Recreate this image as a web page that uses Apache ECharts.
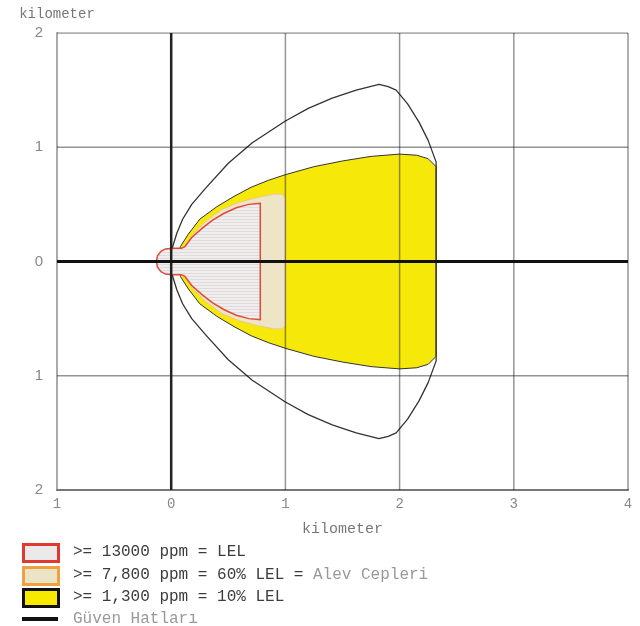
<!DOCTYPE html>
<html><head><meta charset="utf-8">
<script src="https://cdn.jsdelivr.net/npm/echarts@6/dist/echarts.min.js"></script>
<style>html,body{margin:0;padding:0;background:#fff}#c{width:640px;height:626px}</style>
</head><body><div id="c"></div>
<script>
// Axis ticks
const xTicks = [-1, 0, 1, 2, 3, 4];
const yTicks = [-2, -1, 0, 1, 2];

// >= 13000 ppm = LEL (red zone) outline, km
const lelZone = [
  [0.78,0.51],[0.68,0.50],[0.57,0.47],[0.46,0.42],[0.36,0.36],[0.27,0.29],[0.18,0.21],[0.12,0.13],[0.09,0.115],
  [0.01,0.115],[-0.05,0.11],[-0.09,0.09],[-0.12,0.05],[-0.13,0],[-0.12,-0.05],[-0.09,-0.09],[-0.05,-0.11],[0.01,-0.115],
  [0.09,-0.115],[0.12,-0.13],[0.18,-0.21],[0.27,-0.29],[0.36,-0.36],[0.46,-0.42],[0.57,-0.47],[0.68,-0.50],[0.78,-0.51]
];
// >= 7,800 ppm = 60% LEL (orange zone)
const flamePocketZone = [
  [1.0,0.56],[0.97,0.59],[0.9,0.59],[0.75,0.56],[0.6,0.52],[0.45,0.46],[0.3,0.35],[0.2,0.25],[0.12,0.14],[0.09,0.11],
  [0.09,-0.11],[0.12,-0.14],[0.2,-0.25],[0.3,-0.35],[0.45,-0.46],[0.6,-0.52],[0.75,-0.56],[0.9,-0.59],[0.97,-0.59],[1.0,-0.56]
];
// >= 1,300 ppm = 10% LEL (yellow zone)
const tenPctZone = [
  [2.32,0.83],[2.25,0.90],[2.15,0.93],[2.0,0.94],[1.75,0.92],[1.5,0.88],[1.25,0.83],[1.0,0.76],[0.85,0.71],[0.7,0.65],
  [0.55,0.57],[0.4,0.48],[0.25,0.37],[0.15,0.24],[0.08,0.13],[0.05,0],
  [0.08,-0.13],[0.15,-0.24],[0.25,-0.37],[0.4,-0.48],[0.55,-0.57],[0.7,-0.65],[0.85,-0.71],[1.0,-0.76],[1.25,-0.83],
  [1.5,-0.88],[1.75,-0.92],[2.0,-0.94],[2.15,-0.93],[2.25,-0.90],[2.32,-0.83]
];
// Güven Hatları (confidence lines)
const confidenceLine = [
  [0.01,0.12],[0.05,0.25],[0.1,0.37],[0.18,0.5],[0.3,0.64],[0.5,0.86],[0.71,1.04],[1.0,1.23],[1.2,1.34],[1.41,1.43],
  [1.62,1.5],[1.82,1.55],[1.9,1.53],[1.97,1.5],[2.07,1.38],[2.17,1.22],[2.25,1.06],[2.32,0.87],
  [2.32,-0.87],[2.25,-1.06],[2.17,-1.22],[2.07,-1.38],[1.97,-1.5],[1.9,-1.53],[1.82,-1.55],[1.62,-1.5],[1.41,-1.43],
  [1.2,-1.34],[1.0,-1.23],[0.71,-1.04],[0.5,-0.86],[0.3,-0.64],[0.18,-0.5],[0.1,-0.37],[0.05,-0.25],[0.01,-0.12]
];
// Reference axes through the source
const vAxisLine = [[0,-2],[0,2]];
const hAxisLine = [[-1,0],[4,0]];

const legendLabels = ['>= 13000 ppm = LEL', '>= 7,800 ppm = 60% LEL = ', '>= 1,300 ppm = 10% LEL'];
const legendExtra = 'Alev Cepleri';
const legendLine = 'Güven Hatları';

// hatch pattern for red zone
const pat = document.createElement('canvas');
pat.width = 4; pat.height = 3;
const pc = pat.getContext('2d');
pc.fillStyle = '#efeded'; pc.fillRect(0,0,4,3);
pc.fillStyle = '#e0dcdc'; pc.fillRect(0,0,4,1);

function polygonSeries(name, pts, fill, stroke, lw, z) {
  return {
    type: 'custom', name: name, coordinateSystem: 'cartesian2d', z: z, silent: true,
    data: pts,
    renderItem: function (params, api) {
      if (params.dataIndex !== 0) return null;
      const p = pts.map(function (d) { return api.coord(d); });
      return { type: 'polygon', shape: { points: p }, style: { fill: fill, stroke: stroke, lineWidth: lw } };
    }
  };
}

// grid lines drawn above the filled zones (they show through the fills in the reference)
const gridStyle = { color: 'rgba(0,0,0,0.42)', width: 1.5 };
const gridSeries = [];
xTicks.slice(1).forEach(function (x) {
  if (x === 0) return;
  gridSeries.push({ type: 'line', data: [[x, yTicks[0]], [x, yTicks[yTicks.length - 1]]], showSymbol: false, z: 3, silent: true, lineStyle: gridStyle });
});
yTicks.slice(1).forEach(function (y) {
  if (y === 0) return;
  gridSeries.push({ type: 'line', data: [[xTicks[0], y], [xTicks[xTicks.length - 1], y]], showSymbol: false, z: 3, silent: true, lineStyle: gridStyle });
});

const mono = '"Liberation Mono", "DejaVu Sans Mono", monospace';
const chart = echarts.init(document.getElementById('c'));
const option = {
  animation: false,
  backgroundColor: '#fff',
  grid: { left: 57, right: 12, top: 33, bottom: 136, containLabel: false },
  xAxis: {
    type: 'value', min: -1, max: 4, interval: 1,
    name: 'kilometer', nameLocation: 'middle', nameGap: 32,
    nameTextStyle: { fontFamily: mono, fontSize: 15, color: '#777' },
    axisLine: { onZero: false, lineStyle: { color: '#777', width: 2 } },
    axisTick: { show: false },
    axisLabel: { margin: 7, fontFamily: mono, fontSize: 14, color: '#888', formatter: function (v) { return String(Math.abs(v)); } },
    splitLine: { show: false }
  },
  yAxis: {
    type: 'value', min: -2, max: 2, interval: 1,
    name: 'kilometer', nameLocation: 'end', nameGap: 12,
    nameTextStyle: { fontFamily: mono, fontSize: 14, color: '#777' },
    axisLine: { onZero: false, lineStyle: { color: '#aaa', width: 2 } },
    axisTick: { show: false },
    axisLabel: { margin: 14, fontFamily: 'Liberation Sans, Arial, sans-serif', fontSize: 15, color: '#888', formatter: function (v) { return String(Math.abs(v)); } },
    splitLine: { show: false }
  },
  series: [
    polygonSeries('>= 1,300 ppm = 10% LEL', tenPctZone, '#f6e90a', '#333', 1, 1),
    polygonSeries('>= 7,800 ppm = 60% LEL', flamePocketZone, '#eee4c6', '#f2c58a', 1, 1),
    polygonSeries('>= 13000 ppm = LEL', lelZone, { image: pat, repeat: 'repeat' }, '#e04a3a', 1.5, 1),
    { type: 'line', name: 'Güven Hatları', data: confidenceLine, showSymbol: false, z: 2, silent: true,
      lineStyle: { color: '#333', width: 1.3 } }
  ].concat(gridSeries).concat([
    { type: 'line', data: vAxisLine, showSymbol: false, z: 5, silent: true, lineStyle: { color: '#222', width: 2.5 } },
    { type: 'line', data: hAxisLine, showSymbol: false, z: 5, silent: true, lineStyle: { color: '#111', width: 3 } }
  ]),
  graphic: [
    { type: 'rect', left: 22, top: 543, shape: { width: 35, height: 17 }, style: { fill: '#ebe9e9', stroke: '#e03a30', lineWidth: 3 } },
    { type: 'rect', left: 22, top: 566, shape: { width: 35, height: 17 }, style: { fill: '#ece4c6', stroke: '#f0a040', lineWidth: 3 } },
    { type: 'rect', left: 22, top: 588, shape: { width: 35, height: 17 }, style: { fill: '#f6ea00', stroke: '#111', lineWidth: 3 } },
    { type: 'line', shape: { x1: 22, y1: 619, x2: 58, y2: 619 }, style: { stroke: '#111', lineWidth: 4 } },
    { type: 'text', x: 73, y: 552, style: { text: legendLabels[0], font: '16px ' + mono, fill: '#3c3c3c', textVerticalAlign: 'middle' } },
    { type: 'text', x: 73, y: 575, style: { text: legendLabels[1], font: '16px ' + mono, fill: '#3c3c3c', textVerticalAlign: 'middle' } },
    { type: 'text', x: 73 + 25 * 9.6, y: 575, style: { text: legendExtra, font: '16px ' + mono, fill: '#999', textVerticalAlign: 'middle' } },
    { type: 'text', x: 73, y: 597, style: { text: legendLabels[2], font: '16px ' + mono, fill: '#3c3c3c', textVerticalAlign: 'middle' } },
    { type: 'text', x: 73, y: 619, style: { text: legendLine, font: '16px ' + mono, fill: '#999', textVerticalAlign: 'middle' } }
  ]
};
chart.setOption(option);
</script>
</body></html>
